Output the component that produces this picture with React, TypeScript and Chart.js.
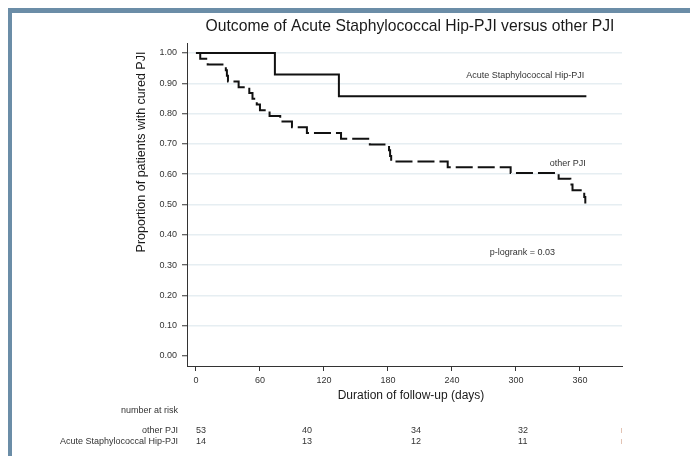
import React, { useEffect, useRef } from 'react';
import { Chart, registerables } from 'chart.js';

Chart.register(...registerables);

const FONT = '"Liberation Sans", Arial, sans-serif';

const titleText = 'Outcome of Acute Staphylococcal Hip-PJI versus other PJI';
const xTitle = 'Duration of follow-up (days)';
const yTitle = 'Proportion of patients with cured PJI';

const xTicks = [0, 60, 120, 180, 240, 300, 360];
const yTicks = [0, 0.1, 0.2, 0.3, 0.4, 0.5, 0.6, 0.7, 0.8, 0.9, 1.0];

const acuteLabel = 'Acute Staphylococcal Hip-PJI';
const acuteDays = [0, 74, 134, 366];
const acuteSurv = [1.0, 0.929, 0.857, 0.857];

const otherLabel = 'other PJI';
const otherDays = [0, 4, 11, 28, 29, 30, 40, 50, 53, 57, 60, 69, 79, 90, 104, 136, 163, 181, 182, 183, 236, 295, 340, 351, 353, 364, 365];
const otherSurv = [1.0, 0.981, 0.962, 0.943, 0.925, 0.906, 0.887, 0.868, 0.849, 0.830, 0.811, 0.792, 0.774, 0.755, 0.736, 0.717, 0.698, 0.679, 0.660, 0.642, 0.623, 0.604, 0.585, 0.566, 0.547, 0.525, 0.503];

const pText = 'p-logrank = 0.03';

const riskHeader = 'number at risk';
const riskGroups = ['other PJI', 'Acute Staphylococcal Hip-PJI'];
const riskOther = [53, 40, 34, 32];
const riskAcute = [14, 13, 12, 11];
const riskTimes = [0, 99.5, 201.5, 302];

const extrasPlugin = {
  id: 'extras',
  afterDraw(chart: any) {
    const ctx = chart.ctx;
    const xs = chart.scales.x;
    const ys = chart.scales.y;
    ctx.save();
    // frame
    ctx.fillStyle = '#6b8da7';
    ctx.fillRect(8, 8, 682, 5);
    ctx.fillRect(8, 8, 4, 448);

    // title
    ctx.fillStyle = '#1a1a1a';
    ctx.font = `15.7px ${FONT}`;
    ctx.textAlign = 'center';
    ctx.textBaseline = 'middle';
    ctx.fillText(titleText, 410, 27);

    // x title
    ctx.font = `12px ${FONT}`;
    ctx.fillText(xTitle, 411, 396);

    // y title
    ctx.save();
    ctx.font = `12.5px ${FONT}`;
    ctx.translate(142, 152);
    ctx.rotate(-Math.PI / 2);
    ctx.fillText(yTitle, 0, 0);
    ctx.restore();

    // annotations
    ctx.fillStyle = '#333';
    ctx.font = `9px ${FONT}`;
    ctx.textAlign = 'right';
    ctx.fillText(acuteLabel, xs.getPixelForValue(364), ys.getPixelForValue(0.927));
    ctx.fillText(otherLabel, xs.getPixelForValue(365.5), ys.getPixelForValue(0.634));
    ctx.textAlign = 'left';
    ctx.fillText(pText, xs.getPixelForValue(275.5), ys.getPixelForValue(0.343));

    // risk table
    ctx.textAlign = 'right';
    ctx.fillText(riskHeader, 178, 411);
    ctx.fillText(riskGroups[0], 178, 431);
    ctx.fillText(riskGroups[1], 178, 442);
    ctx.textAlign = 'left';
    riskTimes.forEach((t, i) => {
      const px = xs.getPixelForValue(t);
      ctx.fillText(String(riskOther[i]), px, 431);
      ctx.fillText(String(riskAcute[i]), px, 442);
    });
    ctx.fillStyle = '#e2c3b4';
    ctx.fillRect(621, 428, 1, 5);
    ctx.fillRect(621, 439, 1, 5);
    ctx.restore();
  },
};

export default function App() {
  const ref = useRef<HTMLCanvasElement | null>(null);
  useEffect(() => {
    if (!ref.current) return;
    const chart = new Chart(ref.current, {
      type: 'line',
      data: {
        datasets: [
          {
            label: acuteLabel,
            data: acuteDays.map((d, i) => ({ x: d, y: acuteSurv[i] })),
            stepped: 'before',
            borderColor: '#111',
            borderWidth: 2,
            pointRadius: 0,
            fill: false,
          },
          {
            label: otherLabel,
            data: otherDays.map((d, i) => ({ x: d, y: otherSurv[i] })),
            stepped: 'before',
            borderColor: '#111',
            borderWidth: 2,
            borderDash: [17, 5],
            pointRadius: 0,
            fill: false,
          },
        ],
      },
      options: {
        responsive: false,
        animation: false,
        devicePixelRatio: 1,
        layout: { padding: { left: 0, right: 68, top: 43, bottom: 0 } },
        plugins: { legend: { display: false }, title: { display: false }, tooltip: { enabled: false } },
        scales: {
          x: {
            type: 'linear',
            min: -8.4,
            max: 399.4,
            afterFit: (s: any) => { s.height = 90; },
            afterBuildTicks: (s: any) => { s.ticks = xTicks.map((v) => ({ value: v })); },
            ticks: { font: { size: 9, family: FONT }, color: '#333', padding: 4, maxRotation: 0, autoSkip: false },
            grid: { drawOnChartArea: false, drawTicks: true, tickLength: 5, tickColor: '#333', tickWidth: 1 },
            border: { display: true, color: '#333', width: 1 },
          },
          y: {
            type: 'linear',
            min: -0.033,
            max: 1.033,
            afterFit: (s: any) => { s.width = 187; },
            afterBuildTicks: (s: any) => { s.ticks = yTicks.map((v) => ({ value: v })); },
            ticks: {
              font: { size: 9, family: FONT },
              color: '#333',
              padding: 5,
              autoSkip: false,
              callback: (v: any) => Number(v).toFixed(2),
            },
            grid: {
              color: (c: any) => (c.tick && Math.abs(c.tick.value) < 1e-9 ? 'rgba(0,0,0,0)' : '#e6eef2'),
              lineWidth: 1.5,
              drawTicks: true,
              tickLength: 5,
              tickColor: '#333',
              tickWidth: 1,
            },
            border: { display: true, color: '#333', width: 1 },
          },
        },
      },
      plugins: [extrasPlugin],
    });
    return () => chart.destroy();
  }, []);
  return (
    <div style={{ position: 'absolute', left: 0, top: 0, width: 690, height: 456, background: '#fff' }}>
      <canvas ref={ref} width={690} height={456} />
    </div>
  );
}
